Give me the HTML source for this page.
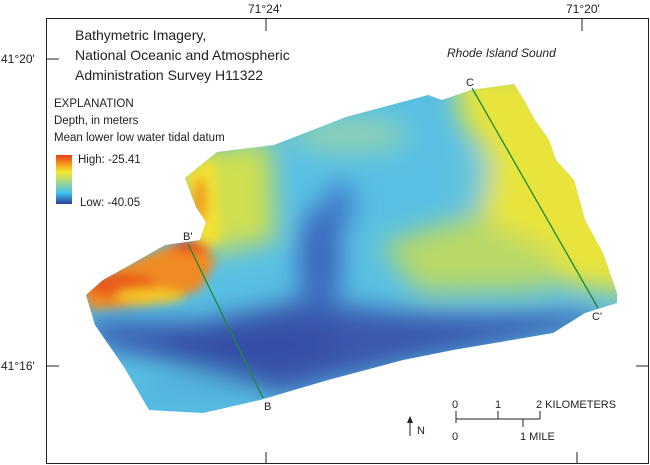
<!DOCTYPE html>
<html><head><style>
body{margin:0;background:#fff;}
svg{display:block;font-family:"Liberation Sans",sans-serif;}
</style></head><body>
<svg width="650" height="465" viewBox="0 0 650 465">
<defs>
<clipPath id="cp"><polygon points="185,178 217,152 274,145 346,117 428,95 442,100 471,90 514,84 524,100 535,120 549,140 556,160 574,180 585,220 603,253 617,293 617,303 585,313 553,333 453,350 403,360 328,380 260,400 203,413 149,410 124,367 95,325 86,295 103,280 130,265 165,245 200,240 206,222 196,207"/></clipPath>
<filter id="bl" x="-50%" y="-50%" width="200%" height="200%"><feGaussianBlur stdDeviation="13"/></filter>
<filter id="bl2" x="-50%" y="-50%" width="200%" height="200%"><feGaussianBlur stdDeviation="5"/></filter>
<linearGradient id="lg" x1="0" y1="0" x2="0" y2="1">
<stop offset="0" stop-color="#e8401c"/><stop offset="0.2" stop-color="#f7a020"/><stop offset="0.35" stop-color="#f2ec30"/><stop offset="0.6" stop-color="#8fd0a0"/><stop offset="0.78" stop-color="#3ec0ee"/><stop offset="1" stop-color="#2a3f9a"/></linearGradient>
</defs>
<rect x="46.5" y="18.5" width="602" height="445" fill="none" stroke="#222" stroke-width="1"/>
<g clip-path="url(#cp)">
<rect x="0" y="0" width="650" height="465" fill="#58c0e4"/>
<g filter="url(#bl)">
<polygon points="455,70 640,70 640,295 570,285 505,260 480,215 490,160 460,120" fill="#e8e43a"/>
<polygon points="380,245 470,215 560,255 545,290 420,292" fill="#b8d868"/>
<ellipse cx="470" cy="180" rx="18" ry="30" fill="#66c4d8"/>
<polygon points="190,150 270,140 275,240 205,255" fill="#cfdf50"/>
<ellipse cx="350" cy="135" rx="60" ry="18" fill="#8ed0b4"/>
<polygon points="80,320 200,322 300,300 400,312 480,315 600,312 600,325 500,345 400,365 280,395 200,370 100,345" fill="#3a58ad"/>
<ellipse cx="250" cy="345" rx="90" ry="25" fill="#3450a6"/>
<ellipse cx="320" cy="260" rx="22" ry="55" fill="#3a68bd"/>
<ellipse cx="340" cy="205" rx="14" ry="25" fill="#3f78c8"/>
<ellipse cx="190" cy="392" rx="60" ry="18" fill="#52b4e0"/>
</g>
<g filter="url(#bl2)">
<polygon points="182,172 215,158 222,240 200,250" fill="#f2e030"/>
<polygon points="80,285 130,262 170,245 205,242 215,262 200,290 150,305 90,310" fill="#f08a20"/>
<ellipse cx="120" cy="285" rx="35" ry="12" fill="#ea5a1e"/>
<ellipse cx="190" cy="247" rx="18" ry="6" fill="#e84a1c"/>
<ellipse cx="150" cy="296" rx="35" ry="8" fill="#f4c428"/>
<ellipse cx="200" cy="200" rx="7" ry="22" fill="#f09a24"/>
</g>
</g>
<line x1="188" y1="244" x2="263" y2="398" stroke="#1a8a3a" stroke-width="1.3"/>
<line x1="472" y1="88" x2="598" y2="308" stroke="#1a8a3a" stroke-width="1.3"/>
<g font-size="11" fill="#222">
<text x="183" y="240">B'</text><text x="264" y="410">B</text>
<text x="466" y="86">C</text><text x="592" y="320">C'</text>
</g>
<line x1="266" y1="18" x2="266" y2="31" stroke="#222"/>
<line x1="582" y1="18" x2="582" y2="31" stroke="#222"/>
<line x1="266" y1="452" x2="266" y2="464" stroke="#222"/>
<line x1="577" y1="452" x2="577" y2="464" stroke="#222"/>
<line x1="46" y1="59" x2="59" y2="59" stroke="#222"/>
<line x1="46" y1="366" x2="59" y2="366" stroke="#222"/>
<line x1="636" y1="366" x2="649" y2="366" stroke="#222"/>
<g font-size="12" fill="#222">
<text x="248" y="13">71°24'</text><text x="566" y="13">71°20'</text>
<text x="1" y="63">41°20'</text><text x="1" y="370">41°16'</text>
</g>
<g font-size="14" fill="#222">
<text x="75" y="40">Bathymetric Imagery,</text>
<text x="75" y="60">National Oceanic and Atmospheric</text>
<text x="75" y="80">Administration Survey H11322</text>
</g>
<text x="447" y="57" font-size="12" font-style="italic" fill="#222">Rhode Island Sound</text>
<g font-size="11.5" fill="#222">
<text x="54" y="107">EXPLANATION</text>
<text x="54" y="124">Depth, in meters</text>
<text x="54" y="141">Mean lower low water tidal datum</text>
<text x="78" y="163">High: -25.41</text>
<text x="80" y="206">Low: -40.05</text>
</g>
<rect x="56" y="155" width="16" height="49" fill="url(#lg)"/>
<g stroke="#222" fill="none" stroke-width="1">
<line x1="456" y1="411" x2="456" y2="423"/>
<line x1="456" y1="419" x2="540" y2="419"/>
<line x1="498" y1="411" x2="498" y2="419"/>
<line x1="540" y1="411" x2="540" y2="419"/>
<line x1="523" y1="419" x2="523" y2="427"/>
<line x1="410" y1="422" x2="410" y2="436"/>
</g>
<polygon points="410,416 407,423 413,423" fill="#222"/>
<g font-size="11" fill="#222">
<text x="452" y="408">0</text><text x="495" y="408">1</text><text x="536" y="408">2 KILOMETERS</text>
<text x="452" y="440">0</text><text x="520" y="440">1 MILE</text>
<text x="417" y="434">N</text>
</g>
</svg>
</body></html>
